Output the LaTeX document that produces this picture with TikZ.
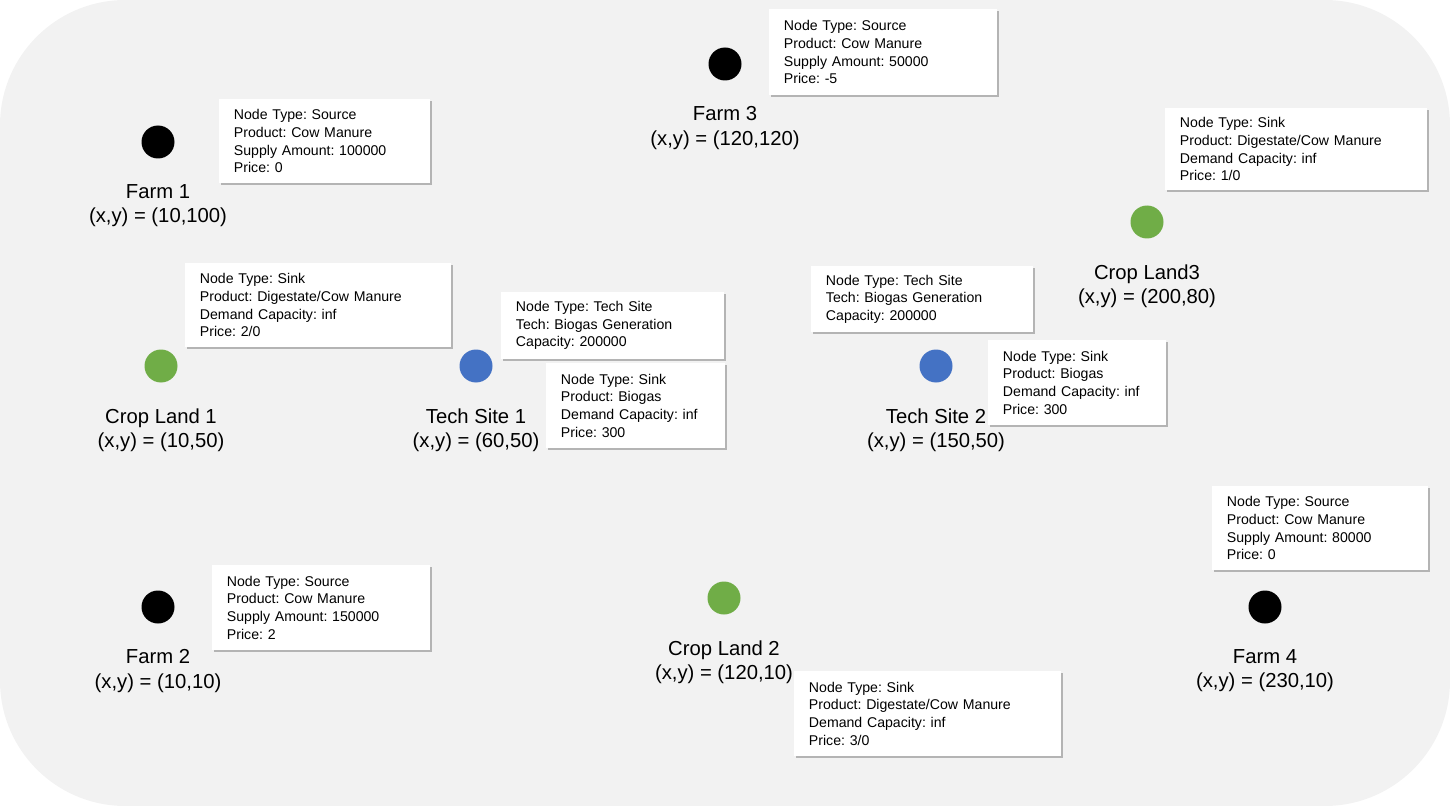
\documentclass[tikz,border=0pt]{standalone}
\usepackage{fontspec}
\setmainfont{Liberation Sans}
\usetikzlibrary{positioning,shadows}
\frenchspacing

\definecolor{cropgreen}{HTML}{70AD47}
\definecolor{techblue}{HTML}{4472C4}

\begin{document}
\begin{tikzpicture}[x=0.75pt,y=-0.75pt,
    dot node/.style={circle,inner sep=0pt,minimum size=24.75pt},
    name node/.style={align=center,inner sep=0pt,font=\fontsize{15.2}{18.5}\selectfont},
    info node/.style={fill=white,anchor=north west,align=left,inner xsep=11pt,inner ysep=0pt,
        font=\fontsize{10.6}{13.3}\selectfont,
        drop shadow={shadow xshift=1.5pt,shadow yshift=-1.5pt,fill=black!45,opacity=0.6}}]
  \useasboundingbox (0,0) rectangle (1450,806);
  \fill[black!5,rounded corners=94pt] (0,0) rectangle (1450,806);

  % sites
  \node[dot node,fill=black] (farm1) at (158,142) {};
  \node[dot node,fill=black] (farm2) at (158,607) {};
  \node[dot node,fill=black] (farm3) at (725,64) {};
  \node[dot node,fill=black] (farm4) at (1265,607) {};
  \node[dot node,fill=cropgreen] (crop1) at (161,366) {};
  \node[dot node,fill=cropgreen] (crop2) at (724,598) {};
  \node[dot node,fill=cropgreen] (crop3) at (1147,222) {};
  \node[dot node,fill=techblue] (tech1) at (476,366) {};
  \node[dot node,fill=techblue] (tech2) at (936,366) {};

  % names
  \node[name node,below=19pt of farm1] (farm1 name) {Farm 1\\(x,y) = (10,100)};
  \node[name node,below=19pt of farm2] (farm2 name) {Farm 2\\(x,y) = (10,10)};
  \node[name node,below=19pt of farm3] (farm3 name) {Farm 3\\(x,y) = (120,120)};
  \node[name node,below=19pt of farm4] (farm4 name) {Farm 4\\(x,y) = (230,10)};
  \node[name node,below=19pt of crop1] (crop1 name) {Crop Land 1\\(x,y) = (10,50)};
  \node[name node,below=19pt of crop2] (crop2 name) {Crop Land 2\\(x,y) = (120,10)};
  \node[name node,below=19pt of crop3] (crop3 name) {Crop Land3\\(x,y) = (200,80)};
  \node[name node,below=19pt of tech1] (tech1 name) {Tech Site 1\\(x,y) = (60,50)};
  \node[name node,below=19pt of tech2] (tech2 name) {Tech Site 2\\(x,y) = (150,50)};

  % data boxes
  \node[info node,text width=136.25pt,minimum height=63pt] (farm1 info) at (219,99)
    {Node Type: Source\\Product: Cow Manure\\Supply Amount: 100000\\Price: 0};
  \node[info node,text width=149pt,minimum height=64.5pt] (farm3 info) at (769,9)
    {Node Type: Source\\Product: Cow Manure\\Supply Amount: 50000\\Price: -5};
  \node[info node,text width=174.5pt,minimum height=61.5pt] (crop3 info) at (1165,108)
    {Node Type: Sink\\Product: Digestate/Cow Manure\\Demand Capacity: inf\\Price: 1/0};
  \node[info node,text width=177.5pt,minimum height=63pt] (crop1 info) at (185,263)
    {Node Type: Sink\\Product: Digestate/Cow Manure\\Demand Capacity: inf\\Price: 2/0};
  \node[info node,text width=145.25pt,minimum height=50pt] (tech1 info) at (501,292)
    {Node Type: Tech Site\\Tech: Biogas Generation\\Capacity: 200000};
  \node[info node,text width=112.25pt,minimum height=63.75pt] (tech1 sink) at (546,363)
    {Node Type: Sink\\Product: Biogas\\Demand Capacity: inf\\Price: 300};
  \node[info node,text width=144.5pt,minimum height=49.5pt] (tech2 info) at (811,266)
    {Node Type: Tech Site\\Tech: Biogas Generation\\Capacity: 200000};
  \node[info node,text width=111.5pt,minimum height=63.75pt] (tech2 sink) at (988,340)
    {Node Type: Sink\\Product: Biogas\\Demand Capacity: inf\\Price: 300};
  \node[info node,text width=140pt,minimum height=63pt] (farm4 info) at (1212,486)
    {Node Type: Source\\Product: Cow Manure\\Supply Amount: 80000\\Price: 0};
  \node[info node,text width=141.5pt,minimum height=63.75pt] (farm2 info) at (212,565)
    {Node Type: Source\\Product: Cow Manure\\Supply Amount: 150000\\Price: 2};
  \node[info node,text width=178.25pt,minimum height=63.75pt] (crop2 info) at (794,671)
    {Node Type: Sink\\Product: Digestate/Cow Manure\\Demand Capacity: inf\\Price: 3/0};
\end{tikzpicture}
\end{document}
